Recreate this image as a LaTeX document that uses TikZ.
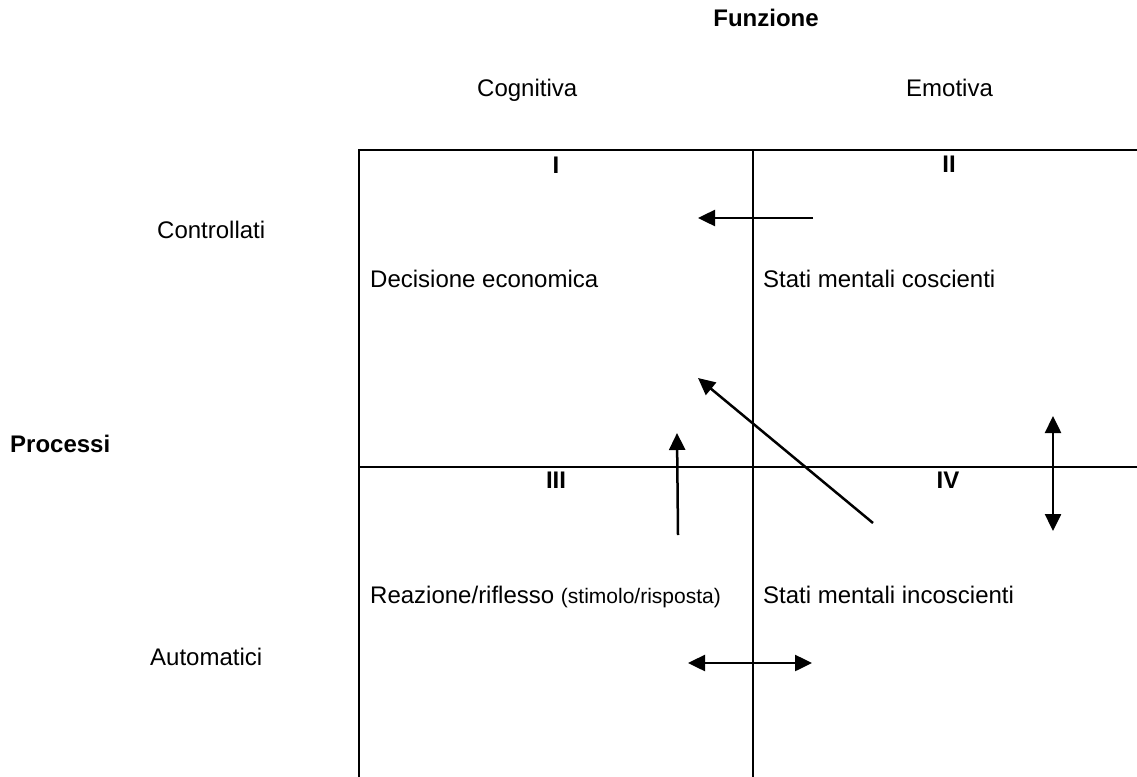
\documentclass[tikz,border=0pt]{standalone}
\usepackage{fontspec}
\setmainfont{Liberation Sans}
\usetikzlibrary{arrows.meta}
\begin{document}
\begin{tikzpicture}[x=1pt,y=-1pt,
  lbl/.style={inner sep=0pt, anchor=base west, font=\fontsize{24}{28}\selectfont},
  blbl/.style={inner sep=0pt, anchor=base, font=\fontsize{24}{28}\selectfont\bfseries},
  frameline/.style={line width=2.5pt},
  arr/.style={line width=2.5pt, -{Triangle[length=17pt,width=16pt]}},
  darr/.style={line width=2.5pt, {Triangle[length=17pt,width=16pt]}-{Triangle[length=17pt,width=16pt]}}]
\useasboundingbox (0,0) rectangle (1137,776);
\clip (0,0) rectangle (1137,776);
% frame
\draw[frameline] (359,790) -- (359,150) -- (1150,150);
\draw[frameline] (753,150) -- (753,790);
\draw[frameline] (359,467) -- (1150,467);
% headers
\node[blbl] (funz) at (766,27) {Funzione};
\node[lbl] (cogn) at (477,96) {Cognitiva};
\node[lbl] (emot) at (906,96) {Emotiva};
\node[lbl] (contr) at (157,238) {Controllati};
\node[lbl, font=\fontsize{24}{28}\selectfont\bfseries] (proc) at (10,452) {Processi};
\node[lbl] (auto) at (150,665) {Automatici};
% quadrant numbers
\node[blbl] (q1) at (556,173) {I};
\node[blbl] (q2) at (949,172) {II};
\node[blbl] (q3) at (556,488) {III};
\node[blbl] (q4) at (948,488) {IV};
% cell texts
\node[lbl] (dec) at (370,287) {Decisione economica};
\node[lbl] (cosc) at (763,287) {Stati mentali coscienti};
\node[lbl] (reaz) at (370,603) {Reazione/riflesso {\fontsize{21}{25}\selectfont(stimolo/risposta)}};
\node[lbl] (incosc) at (763,603) {Stati mentali incoscienti};
% arrow endpoints
\coordinate (a1s) at (813,218); \coordinate (a1e) at (698,218);
\coordinate (a2s) at (873,523); \coordinate (a2e) at (698,378);
\coordinate (a3s) at (678,535); \coordinate (a3e) at (677,433);
\coordinate (a4s) at (1053,416); \coordinate (a4e) at (1053,531);
\coordinate (a5s) at (688,663); \coordinate (a5e) at (812,663);
\draw[arr] (a1s) -- (a1e);
\draw[arr] (a2s) -- (a2e);
\draw[arr] (a3s) -- (a3e);
\draw[darr] (a4s) -- (a4e);
\draw[darr] (a5s) -- (a5e);
\end{tikzpicture}
\end{document}
